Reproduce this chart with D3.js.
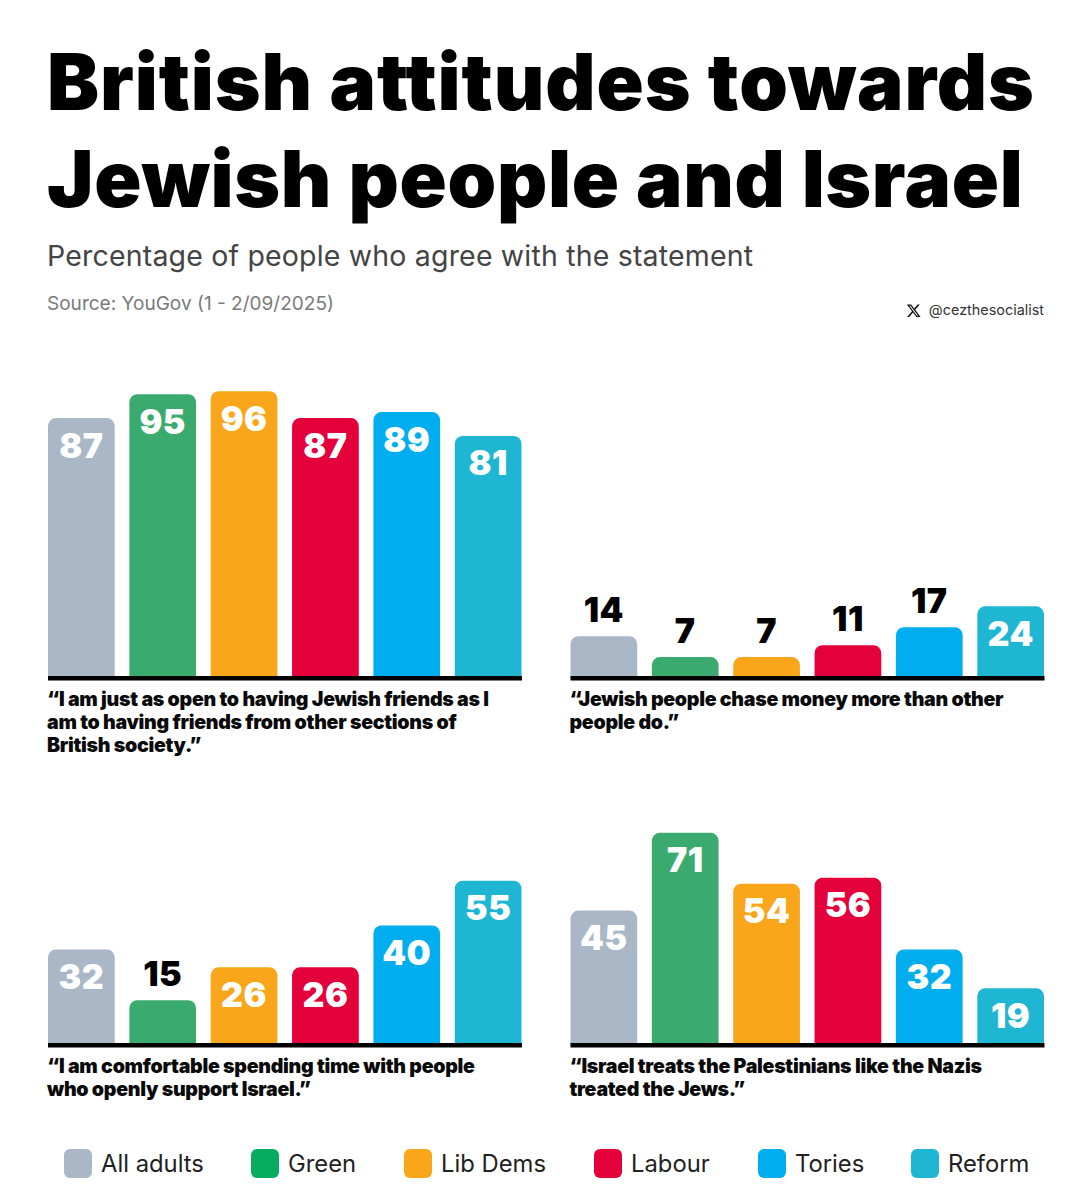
<!DOCTYPE html>
<html>
<head>
<meta charset="utf-8">
<script src="https://cdnjs.cloudflare.com/ajax/libs/d3/7.9.0/d3.min.js"></script>
<style>
  html, body { margin: 0; background: #fff; }
  svg { display: block; font-family: Inter, "Noto Sans", sans-serif; }
</style>
</head>
<body>
<div id="chart"></div>
<script>
const groups = ["All adults", "Green", "Lib Dems", "Labour", "Tories", "Reform"];
const barColours = ["#A9B7C6", "#3BAA6E", "#FAA61A", "#E4003B", "#00AEEF", "#1FB6D3"];
const legendColours = ["#A9B7C6", "#08AC5F", "#FAA61A", "#E4003B", "#00AEEF", "#1FB6D3"];

const openFriends = [87, 95, 96, 87, 89, 81];
const chaseMoney = [14, 7, 7, 11, 17, 24];
const comfortable = [32, 15, 26, 26, 40, 55];
const treatsPalestinians = [45, 71, 54, 56, 32, 19];

const quoteOpenFriends = ["“I am just as open to having Jewish friends as I", "am to having friends from other sections of", "British society.”"];
const quoteChaseMoney = ["“Jewish people chase money more than other", "people do.”"];
const quoteComfortable = ["“I am comfortable spending time with people", "who openly support Israel.”"];
const quoteTreats = ["“Israel treats the Palestinians like the Nazis", "treated the Jews.”"];

const width = 1092, height = 1200;
const svg = d3.select("#chart").append("svg").attr("width", width).attr("height", height);

// Heading block
const heading = svg.append("g").attr("fill", "#000")
  .attr("font-size", 78).attr("font-weight", 900);
heading.append("text").attr("x", 47).attr("y", 110).attr("letter-spacing", 0.9).text("British attitudes towards");
heading.append("text").attr("x", 47).attr("y", 207).attr("letter-spacing", 0.7).text("Jewish people and Israel");

svg.append("text").attr("x", 47).attr("y", 266).attr("font-size", 28.5)
  .attr("fill", "#444").attr("letter-spacing", 0.18)
  .text("Percentage of people who agree with the statement");
svg.append("text").attr("x", 47).attr("y", 310).attr("font-size", 19.05)
  .attr("fill", "#7a7a7a").text("Source: YouGov (1 - 2/09/2025)");

// Author handle with the X mark
svg.append("path")
  .attr("d", "M18.244 2.25h3.308l-7.227 8.26 8.502 11.24H16.17l-5.214-6.817L4.99 21.75H1.68l7.73-8.835L1.254 2.25H8.08l4.713 6.231zm-1.161 17.52h1.833L7.084 4.126H5.117z")
  .attr("transform", "translate(906,303) scale(0.64)").attr("fill", "#111");
svg.append("text").attr("x", 1044).attr("y", 315).attr("text-anchor", "end")
  .attr("font-size", 14.4).attr("fill", "#333").text("@cezthesocialist");

const y = d3.scaleLinear().domain([0, 100]).range([0, 298.8]);
const x = d3.scaleBand().domain(groups).range([0, 473.5]).paddingInner(0.18);
const radius = 8;

function topRoundedBar(left, w, h) {
  const p = d3.path();
  p.moveTo(left, 0);
  p.lineTo(left, -h + radius);
  p.arcTo(left, -h, left + radius, -h, radius);
  p.lineTo(left + w - radius, -h);
  p.arcTo(left + w, -h, left + w, -h + radius, radius);
  p.lineTo(left + w, 0);
  p.closePath();
  return p.toString();
}

// One small-multiple panel: bars on a heavy baseline, a value per bar, quote beneath
function panel(originX, baseY, values, quote) {
  const g = svg.append("g").attr("transform", `translate(${originX},${baseY})`);
  const rows = groups.map((name, i) => ({ name, value: values[i], colour: barColours[i] }));

  g.selectAll("path.bar").data(rows).join("path").attr("class", "bar")
    .attr("d", d => topRoundedBar(x(d.name), x.bandwidth(), y(d.value)))
    .attr("fill", d => d.colour);

  g.selectAll("text.value").data(rows).join("text").attr("class", "value")
    .attr("x", d => x(d.name) + x.bandwidth() / 2)
    .attr("y", d => d.value >= 19 ? -y(d.value) + 39.5 : -y(d.value) - 14)
    .attr("text-anchor", "middle")
    .attr("font-size", 34).attr("font-weight", 900).attr("letter-spacing", 0.5)
    .attr("fill", d => d.value >= 19 ? "#fff" : "#000")
    .text(d => d.value);

  g.append("rect").attr("x", 0).attr("y", -2).attr("width", 474).attr("height", 4.5).attr("fill", "#000");

  g.selectAll("text.quote").data(quote).join("text").attr("class", "quote")
    .attr("x", -1)
    .attr("y", (d, i) => 28 + i * 23)
    .attr("font-size", 19.6).attr("font-weight", 900).attr("letter-spacing", -0.3)
    .attr("fill", "#0a0a0a")
    .text(d => d);
}

panel(48, 678, openFriends, quoteOpenFriends);
panel(570.5, 678, chaseMoney, quoteChaseMoney);
panel(48, 1045, comfortable, quoteComfortable);
panel(570.5, 1045, treatsPalestinians, quoteTreats);

// Legend
const swatchX = d3.scaleOrdinal().domain(groups).range([64, 251, 404, 594, 758, 911]);
const legend = svg.append("g").selectAll("g").data(groups).join("g")
  .attr("transform", d => `translate(${swatchX(d)},1149)`);
legend.append("rect").attr("width", 28).attr("height", 29).attr("rx", 6)
  .attr("fill", (d, i) => legendColours[i]);
legend.append("text").attr("x", 37).attr("y", 23).attr("font-size", 23.8)
  .attr("fill", "#222").text(d => d);
</script>
</body>
</html>
